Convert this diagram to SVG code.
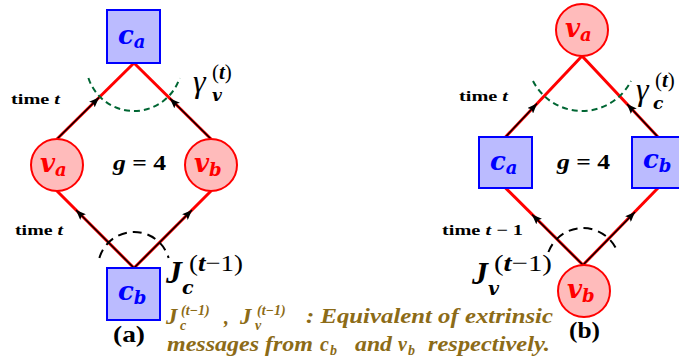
<svg xmlns="http://www.w3.org/2000/svg" width="679" height="362" viewBox="0 0 679 362">
<defs>
<style>
.sq{fill:#BBBBFF;stroke:#0000FF;stroke-width:2}
.ci{fill:#FFBBBB;stroke:#FF0000;stroke-width:2}
.red{stroke:#FF0000;stroke-width:3;fill:none}
.blk{stroke:#000;stroke-width:1.4;fill:none;marker-end:url(#ah)}
.garc{stroke:#006633;stroke-width:2;fill:none;stroke-dasharray:6 4}
.karc{stroke:#000;stroke-width:2;fill:none;stroke-dasharray:9 6}
.m{font-family:"DejaVu Serif","Liberation Serif",serif;font-weight:bold;font-style:italic}
.lb{font-size:26px}
.ls{font-size:18px}
.bl{fill:#0000FF}
.rd{fill:#FF0000}
.tm{font-family:"Liberation Serif",serif;font-weight:bold;font-size:15px;fill:#000}
.it{font-style:italic}
.mt{font-family:"Liberation Serif",serif;fill:#000}
.gam{font-size:32px;font-style:italic}
.sb{font-family:"DejaVu Serif","Liberation Serif",serif;font-weight:bold;font-style:italic;font-size:17px}
.sp{font-size:21px}
.jj{font-size:32px;font-weight:bold;font-style:italic}
.jsp{font-family:"Liberation Serif",serif;fill:#000;font-size:24px}
.g4{font-family:"Liberation Serif",serif;font-size:21px;font-weight:bold;fill:#000}
.cap{font-family:"Liberation Serif",serif;font-size:24px;font-weight:bold;fill:#000}
.br{font-family:"Liberation Serif",serif;font-size:20px;font-weight:bold;font-style:italic;fill:#8C6B17}
.bj{font-size:23px}
.brs{font-size:14px}
</style>
<marker id="ah" markerUnits="userSpaceOnUse" markerWidth="11" markerHeight="8" refX="10" refY="4" orient="auto">
<path d="M0,0 L10,4 L0,8 L2,4 z" fill="#000"/>
</marker>
</defs>
<rect width="679" height="362" fill="#fff"/>

<g id="connectors">
<line class="red" x1="57" y1="139" x2="134" y2="63"/>
<line class="red" x1="211" y1="139" x2="134" y2="63"/>
<line class="red" x1="134" y1="268" x2="57" y2="191"/>
<line class="red" x1="134" y1="268" x2="211" y2="191"/>
<line class="blk" x1="57" y1="139" x2="99" y2="97.5"/>
<line class="blk" x1="211" y1="139" x2="170" y2="98.5"/>
<line class="blk" x1="134" y1="268" x2="76" y2="210"/>
<line class="blk" x1="134" y1="268" x2="192" y2="210"/>
<path class="garc" d="M88.4,78 A48,48 0 0 0 179.6,78"/>
<path class="karc" d="M99.4,258 A36,36 0 0 1 168.6,258"/>
<line class="red" x1="505.5" y1="137" x2="582" y2="56"/>
<line class="red" x1="658" y1="137" x2="582" y2="56"/>
<line class="red" x1="583" y1="265" x2="505.5" y2="188"/>
<line class="red" x1="583" y1="265" x2="658" y2="188"/>
<line class="blk" x1="505.5" y1="137" x2="537" y2="103.5"/>
<line class="blk" x1="658" y1="137" x2="627" y2="104"/>
<line class="blk" x1="583" y1="265" x2="532" y2="214.5"/>
<line class="blk" x1="583" y1="265" x2="635" y2="212"/>
<path class="garc" d="M533,81 A55,55 0 0 0 631,81"/>
<path class="karc" d="M548.4,252 A37,37 0 0 1 617.6,252"/>
</g>

<g id="a_ca">
<rect class="sq" x="107" y="10" width="53" height="53"/>
<text class="m lb bl" x="118" y="44">c<tspan class="ls" dy="4">a</tspan></text>
</g>
<g id="a_va">
<circle class="ci" cx="57" cy="165" r="26"/>
<text class="m lb rd" x="40" y="172">v<tspan class="ls" dy="4">a</tspan></text>
</g>
<g id="a_vb">
<circle class="ci" cx="211" cy="165" r="26"/>
<text class="m lb rd" x="194" y="172">v<tspan class="ls" dy="4">b</tspan></text>
</g>
<g id="a_cb">
<rect class="sq" x="107" y="268" width="53" height="52"/>
<text class="m lb bl" x="118" y="300">c<tspan class="ls" dy="4">b</tspan></text>
</g>

<g id="b_va">
<circle class="ci" cx="582" cy="30" r="26"/>
<text class="m lb rd" x="565" y="37">v<tspan class="ls" dy="4">a</tspan></text>
</g>
<g id="b_ca">
<rect class="sq" x="479" y="137" width="53" height="51"/>
<text class="m lb bl" x="490" y="170">c<tspan class="ls" dy="4">a</tspan></text>
</g>
<g id="b_cb">
<rect class="sq" x="632" y="137" width="53" height="51"/>
<text class="m lb bl" x="643" y="168">c<tspan class="ls" dy="4">b</tspan></text>
</g>
<g id="b_vb">
<circle class="ci" cx="584" cy="291" r="26"/>
<text class="m lb rd" x="567" y="298">v<tspan class="ls" dy="4">b</tspan></text>
</g>

<g id="labels_a">
<text class="tm" x="11" y="104" textLength="49" lengthAdjust="spacingAndGlyphs">time <tspan class="it">t</tspan></text>
<text class="tm" x="15" y="235" textLength="48" lengthAdjust="spacingAndGlyphs">time <tspan class="it">t</tspan></text>
<text class="mt" x="193" y="92"><tspan class="gam">γ</tspan><tspan class="sb" x="212" y="101">v</tspan><tspan class="sp" x="212" y="79">(<tspan class="it" font-weight="bold">t</tspan>)</tspan></text>
<text class="g4" x="113" y="170" textLength="53" lengthAdjust="spacingAndGlyphs"><tspan class="it">g</tspan> = 4</text>
<text class="mt" x="166" y="283"><tspan class="jj">J</tspan><tspan class="sb" style="font-size:19px" x="182" y="294">c</tspan></text>
<text class="jsp" x="189" y="271" textLength="54" lengthAdjust="spacingAndGlyphs">(<tspan class="it" font-weight="bold">t</tspan>−1)</text>
<text class="cap" x="113" y="342" textLength="32" lengthAdjust="spacingAndGlyphs">(a)</text>
</g>

<g id="labels_b">
<text class="tm" x="459" y="101" textLength="49" lengthAdjust="spacingAndGlyphs">time <tspan class="it">t</tspan></text>
<text class="tm" x="442" y="235" textLength="81" lengthAdjust="spacingAndGlyphs">time <tspan class="it">t</tspan> − 1</text>
<text class="mt" x="636" y="100"><tspan class="gam">γ</tspan><tspan class="sb" x="653" y="109">c</tspan><tspan class="sp" x="655" y="87">(<tspan class="it" font-weight="bold">t</tspan>)</tspan></text>
<text class="g4" x="557" y="169" textLength="53" lengthAdjust="spacingAndGlyphs"><tspan class="it">g</tspan> = 4</text>
<text class="mt" x="472" y="284"><tspan class="jj">J</tspan><tspan class="sb" style="font-size:19px" x="488" y="295">v</tspan></text>
<text class="jsp" x="494" y="271" textLength="58" lengthAdjust="spacingAndGlyphs">(<tspan class="it" font-weight="bold">t</tspan>−1)</text>
<text class="cap" x="569" y="338" textLength="31" lengthAdjust="spacingAndGlyphs">(b)</text>
</g>

<g id="note">
<text class="br" x="166" y="324"><tspan class="bj">J</tspan><tspan class="brs" x="180" y="330">c</tspan><tspan class="brs" x="181" y="315">(t−1)</tspan><tspan x="224" y="324">,</tspan><tspan class="bj" x="240" y="324">J</tspan><tspan class="brs" x="255" y="330">v</tspan><tspan class="brs" x="257" y="315">(t−1)</tspan></text>
<text class="br" x="306" y="323" textLength="247" lengthAdjust="spacingAndGlyphs">: Equivalent of extrinsic</text>
<text class="br" x="167" y="351" textLength="146" lengthAdjust="spacingAndGlyphs">messages from</text>
<text class="br" x="320" y="351">c<tspan class="brs" x="330" y="355">b</tspan></text>
<text class="br" x="355" y="351" textLength="37" lengthAdjust="spacingAndGlyphs">and</text>
<text class="br" x="398" y="351">v<tspan class="brs" x="408" y="355">b</tspan></text>
<text class="br" x="428" y="351" textLength="122" lengthAdjust="spacingAndGlyphs">respectively.</text>
</g>
</svg>
